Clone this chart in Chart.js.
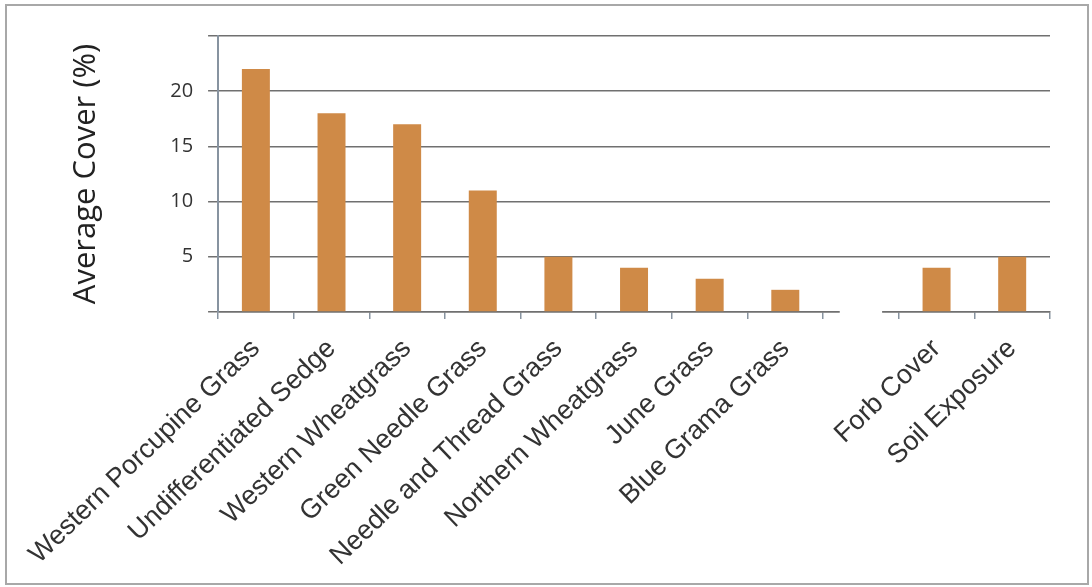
<!DOCTYPE html>
<html>
<head>
<meta charset="utf-8">
<script src="https://cdn.jsdelivr.net/npm/chart.js@4.4.0/dist/chart.umd.min.js"></script>
<style>
  body { margin: 0; background: #fff; }
  #frame { position: absolute; left: 5px; top: 4px; width: 1080px; height: 577px; border: 2px solid #a8a8a8; }
  #wrap { position: absolute; left: 0; top: 0; width: 1092px; height: 587px; }
</style>
</head>
<body>
<div id="frame"></div>
<div id="wrap"><canvas id="coverChart"></canvas></div>
<script>
// categories (empty slot = gap between grasses and the other cover types)
const categories = [
    'Western Porcupine Grass', 'Undifferentiated Sedge', 'Western Wheatgrass',
    'Green Needle Grass', 'Needle and Thread Grass', 'Northern Wheatgrass',
    'June Grass', 'Blue Grama Grass', '', 'Forb Cover', 'Soil Exposure'
];
const coverValues = [22, 18, 17, 11, 5, 4, 3, 2, null, 4, 5];
const yTickLabels = [5, 10, 15, 20];
const gapIndex = 8;

// the x axis line is broken in the empty slot
const axisBreak = {
    id: 'axisBreak',
    afterDraw(chart) {
        const x = chart.scales.x;
        const ctx = chart.ctx;
        const cx = x.getPixelForValue(gapIndex);
        const half = (x.width / categories.length) * 0.28;
        ctx.save();
        ctx.fillStyle = '#fff';
        ctx.fillRect(cx - half, x.top - 3, half * 2, 5);
        ctx.restore();
    }
};

const ctx = document.getElementById('coverChart').getContext('2d');
new Chart(ctx, {
    type: 'bar',
    data: {
        labels: categories,
        datasets: [{
            label: 'Average Cover',
            data: coverValues,
            backgroundColor: '#cf8a47',
            borderWidth: 0,
            barPercentage: 0.37,
            categoryPercentage: 1
        }]
    },
    plugins: [axisBreak],
    options: {
        responsive: true,
        maintainAspectRatio: false,
        animation: false,
        layout: { padding: { left: 68, right: 42, top: 36, bottom: 1 } },
        plugins: { legend: { display: false }, tooltip: { enabled: false } },
        scales: {
            x: {
                grid: { offset: true, drawOnChartArea: false, tickLength: 7, color: '#8793a0', lineWidth: 1.5 },
                border: { color: '#707070', width: 1.5 },
                ticks: {
                    minRotation: 44, maxRotation: 44, autoSkip: false, padding: 14,
                    color: '#333',
                    font: { family: '"Liberation Sans", Arial, sans-serif', size: 27 }
                }
            },
            y: {
                min: 0, max: 25,
                grid: { color: '#707070', lineWidth: 1.5, tickLength: 10 },
                border: { color: '#8793a0', width: 2 },
                ticks: {
                    stepSize: 5, padding: 15, color: '#333',
                    font: { family: '"Open Sans", sans-serif', size: 20 },
                    callback: v => yTickLabels.includes(v) ? v : ''
                },
                title: {
                    display: true, text: 'Average Cover (%)', color: '#222',
                    font: { family: '"Open Sans", sans-serif', size: 31 },
                    padding: { top: 0, bottom: 50 }
                }
            }
        }
    }
});
</script>
</body>
</html>
